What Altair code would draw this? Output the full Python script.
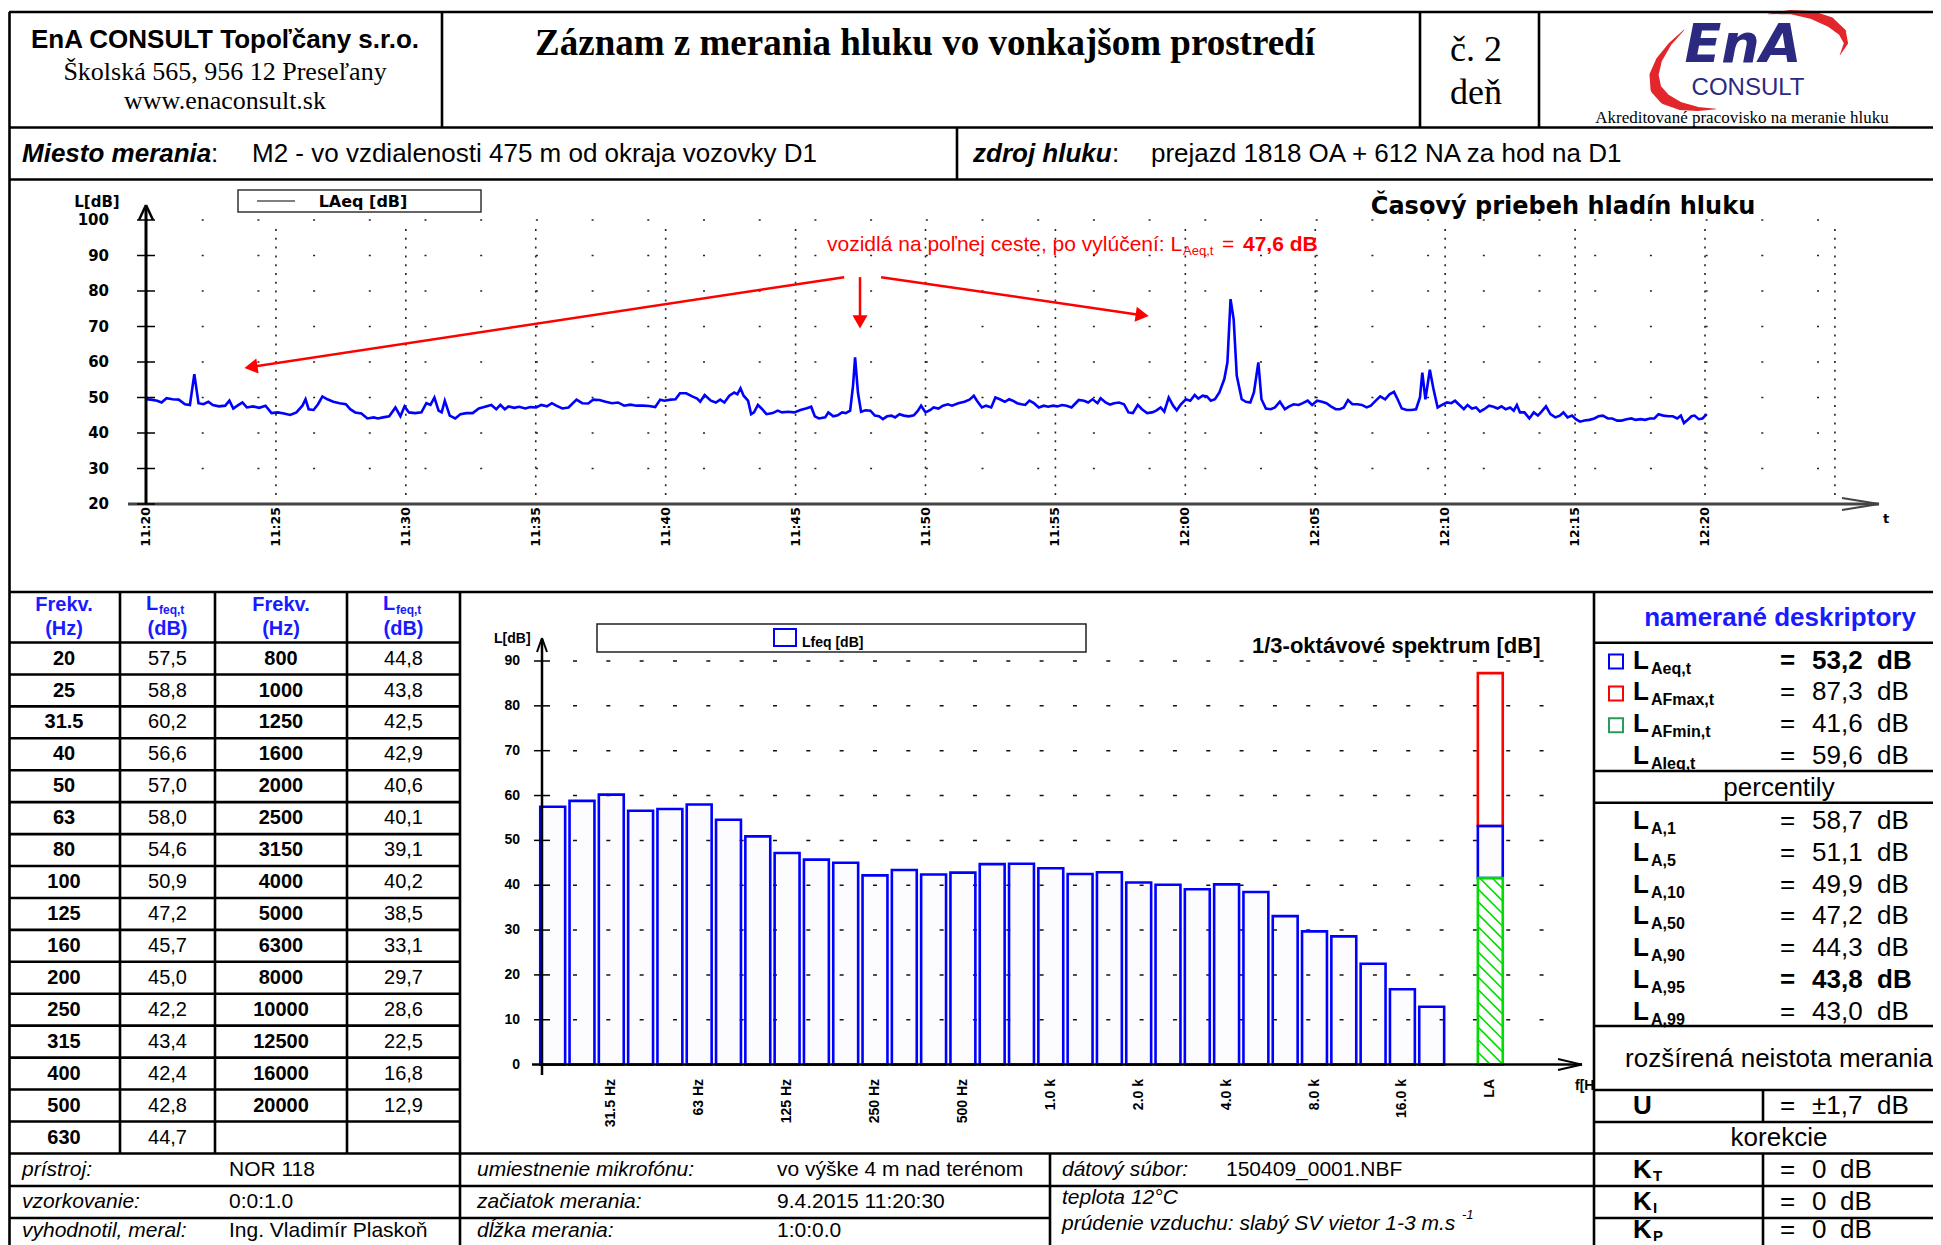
import altair as alt
import pandas as pd

# ------------------------------------------------------------------ data
# time record LAeq (minutes after 11:20, dB)
T_MIN = [
    0.0, 0.19, 0.43, 0.6, 0.79, 1.02, 1.26, 1.5, 1.69, 1.86,
    2.02, 2.21, 2.4, 2.57, 2.81, 3.05, 3.21, 3.36, 3.52, 3.71,
    3.88, 4.12, 4.36, 4.6, 4.83, 5.07, 5.31, 5.55, 5.79, 6.02,
    6.14, 6.26, 6.45, 6.62, 6.79, 6.98, 7.21, 7.45, 7.69, 7.86,
    8.05, 8.29, 8.52, 8.76, 8.93, 9.12, 9.36, 9.6, 9.79, 9.95,
    10.12, 10.36, 10.6, 10.79, 10.95, 11.1, 11.26, 11.38, 11.5, 11.69,
    11.9, 12.1, 12.33, 12.57, 12.81, 13.05, 13.29, 13.48, 13.64, 13.81,
    13.95, 14.17, 14.36, 14.6, 14.79, 15.02, 15.21, 15.43, 15.62, 15.79,
    16.02, 16.26, 16.57, 16.79, 17.02, 17.21, 17.45, 17.69, 17.93, 18.17,
    18.4, 18.64, 18.88, 19.12, 19.36, 19.6, 19.79, 19.95, 20.19, 20.38,
    20.55, 20.79, 21.02, 21.21, 21.33, 21.5, 21.74, 21.93, 22.1, 22.26,
    22.45, 22.64, 22.76, 22.88, 23.0, 23.17, 23.29, 23.4, 23.55, 23.69,
    23.88, 24.12, 24.31, 24.48, 24.71, 24.95, 25.19, 25.43, 25.6, 25.74,
    25.9, 26.14, 26.26, 26.45, 26.62, 26.79, 26.93, 27.1, 27.21, 27.29,
    27.4, 27.52, 27.69, 27.88, 28.05, 28.21, 28.36, 28.52, 28.69, 28.83,
    29.0, 29.17, 29.36, 29.55, 29.71, 29.83, 30.0, 30.19, 30.31, 30.5,
    30.67, 30.86, 31.02, 31.26, 31.5, 31.69,
    31.86, 31.98, 32.17, 32.33, 32.53, 32.69, 32.86, 33.05, 33.22, 33.36,
    33.53, 33.69, 33.84, 34.0, 34.17, 34.36, 34.55, 34.72, 34.91, 35.07,
    35.26, 35.43, 35.62, 35.74, 35.9, 36.1, 36.26, 36.43, 36.62, 36.74,
    36.93, 37.1, 37.26, 37.45, 37.64, 37.81, 37.98, 38.17, 38.33, 38.53,
    38.72, 38.88, 39.05, 39.19, 39.36, 39.53, 39.67, 39.83, 40.02, 40.19,
    40.36, 40.5, 40.67, 40.83, 40.98, 41.14, 41.31, 41.5, 41.62, 41.74,
    41.86, 41.98, 42.17, 42.33, 42.5, 42.64, 42.81, 42.93, 43.1, 43.29,
    43.45, 43.64, 43.83, 44.0, 44.17, 44.36, 44.52, 44.71, 44.88, 45.07,
    45.26, 45.43, 45.6, 45.79, 45.95, 46.1, 46.26, 46.43, 46.62, 46.79,
    46.98, 47.14, 47.33, 47.5, 47.69, 47.86, 48.03, 48.17, 48.33, 48.52,
    48.69, 48.88, 49.03, 49.12, 49.24, 49.41, 49.55, 49.71, 49.88, 50.07,
    50.24, 50.38, 50.55, 50.72, 50.86, 51.03, 51.19, 51.34, 51.5, 51.69,
    51.86, 52.02, 52.17, 52.33, 52.5, 52.64, 52.76, 52.88, 53.05, 53.24,
    53.41, 53.57, 53.71, 53.88, 54.05, 54.24, 54.41, 54.55, 54.71, 54.88,
    55.03, 55.19, 55.36, 55.55, 55.74, 55.9, 56.07, 56.26, 56.43, 56.62,
    56.79, 56.98, 57.17, 57.33, 57.52, 57.69, 57.88, 58.05, 58.21, 58.4,
    58.6, 58.76, 58.93, 59.07, 59.19, 59.36, 59.48, 59.6, 59.76, 59.9,
    60.07,
]
LAEQ_DB = [
    49.5, 49.4, 49.1, 48.6, 49.8, 49.5, 49.4, 48.1, 47.9, 56.6,
    48.4, 48.1, 48.8, 47.9, 47.5, 47.7, 49.1, 46.9, 47.7, 48.6,
    47.2, 47.5, 47.1, 47.7, 45.6, 45.8, 45.5, 45.1, 45.8, 47.7,
    49.5, 46.7, 46.5, 48.1, 50.3, 49.5, 48.8, 48.4, 48.1, 46.7,
    45.8, 45.5, 44.1, 44.4, 44.1, 44.4, 44.7, 47.2, 44.7, 47.5,
    45.8, 45.6, 45.8, 48.4, 47.9, 50.0, 46.3, 45.8, 49.1, 44.9,
    44.1, 45.3, 45.6, 45.6, 46.9, 47.4, 47.9, 46.7, 47.9, 46.7,
    47.5, 47.1, 47.4, 46.9, 47.3, 47.2, 47.9, 47.5, 48.4, 47.7,
    46.9, 47.2, 49.4, 48.4, 48.3, 49.4, 49.3, 48.8, 48.4, 48.6,
    47.7, 48.0, 47.7, 47.7, 47.6, 47.3, 49.4, 49.1, 49.4, 49.5,
    51.2, 51.2, 50.3, 49.7, 48.8, 50.7, 49.1, 48.6, 49.4, 48.6,
    50.5, 51.4, 50.9, 52.6, 50.5, 49.1, 45.3, 45.8, 47.9, 46.9,
    45.3, 45.6, 46.3, 45.8, 46.0, 45.8, 46.5, 47.0, 47.4, 44.7,
    44.1, 44.4, 45.8, 44.7, 45.0, 45.8, 45.6, 46.3, 53.3, 61.3,
    51.4, 46.0, 46.4, 46.3, 44.9, 44.7, 43.9, 44.7, 44.9, 44.4,
    45.3, 44.9, 44.7, 45.0, 46.3, 47.7, 45.8, 46.5, 47.2, 46.9,
    47.7, 48.1, 47.7, 48.4, 48.8, 49.4,
    50.5, 49.1, 47.2, 47.7, 47.2, 50.0, 49.5, 48.8, 49.5, 49.1,
    48.4, 48.1, 47.9, 49.1, 48.4, 47.2, 47.7, 47.4, 47.7, 47.5,
    47.9, 47.7, 47.2, 48.1, 49.3, 49.1, 48.6, 49.5, 48.4, 49.8,
    48.6, 48.0, 48.4, 48.6, 48.1, 45.8, 45.6, 47.9, 46.7, 45.6,
    45.8, 46.3, 47.2, 46.0, 50.0, 47.7, 46.4, 48.1, 49.5, 49.1,
    50.7, 49.7, 50.5, 50.3, 49.1, 49.5, 51.4, 55.2, 59.9, 77.7,
    72.0, 56.1, 49.5, 48.8, 48.6, 51.4, 59.9, 49.5, 46.9, 46.7,
    47.2, 48.8, 46.7, 47.5, 48.1, 47.9, 48.4, 49.1, 47.9, 49.1,
    48.8, 48.4, 47.5, 46.7, 46.7, 47.2, 49.3, 48.1, 48.1, 47.9,
    47.2, 47.7, 49.1, 50.3, 49.5, 50.9, 51.6, 49.5, 46.9, 46.5,
    46.5, 46.7, 50.0, 57.0, 49.5, 57.8, 52.4, 47.2, 47.9, 48.6,
    48.4, 49.1, 47.9, 46.7, 47.9, 46.9, 47.2, 46.0, 46.7, 47.7,
    47.4, 46.9, 47.5, 46.7, 47.2, 46.3, 47.9, 45.8, 45.8, 44.1,
    45.8, 44.9, 46.0, 47.5, 45.3, 44.4, 44.9, 45.8, 44.4, 44.9,
    43.9, 43.2, 43.5, 43.7, 44.1, 44.7, 44.9, 44.1, 44.1, 43.5,
    43.5, 43.9, 44.1, 43.7, 43.9, 43.7, 44.1, 44.1, 45.3, 44.9,
    44.7, 44.7, 44.1, 44.9, 42.8, 43.9, 44.7, 44.9, 43.9, 44.1,
    45.3,
]
TIME_TICK_LABELS = ["11:20", "11:25", "11:30", "11:35", "11:40", "11:45", "11:50",
                    "11:55", "12:00", "12:05", "12:10", "12:15", "12:20"]
TIME_TICK_MIN = [0, 5, 10, 15, 20, 25, 30, 35, 40, 45, 50, 55, 60]
TIME_GRID_MIN = [5, 10, 15, 20, 25, 30, 35, 40, 45, 50, 55, 60, 65]
TIME_Y_TICKS = [20, 30, 40, 50, 60, 70, 80, 90, 100]

# 1/3-octave spectrum
BANDS = ["20", "25", "31.5", "40", "50", "63", "80", "100", "125", "160", "200",
         "250", "315", "400", "500", "630", "800", "1000", "1250", "1600", "2000",
         "2500", "3150", "4000", "5000", "6300", "8000", "10000", "12500", "16000", "20000"]
LFEQ = [57.5, 58.8, 60.2, 56.6, 57.0, 58.0, 54.6, 50.9, 47.2, 45.7, 45.0,
        42.2, 43.4, 42.4, 42.8, 44.7, 44.8, 43.8, 42.5, 42.9, 40.6,
        40.1, 39.1, 40.2, 38.5, 33.1, 29.7, 28.6, 22.5, 16.8, 12.9]
SPEC_LABELS = ["31.5 Hz", "63 Hz", "125 Hz", "250 Hz", "500 Hz", "1.0 k", "2.0 k",
               "4.0 k", "8.0 k", "16.0 k", "LA"]
SPEC_LABEL_IDX = [2, 5, 8, 11, 14, 17, 20, 23, 26, 29, 32]
SPEC_Y_TICKS = [0, 10, 20, 30, 40, 50, 60, 70, 80, 90]
LA_IDX = 32
L_AEQ, L_AFMAX, L_AFMIN = 53.2, 87.3, 41.6

# descriptors
DESC_SUBS = ["Aeq,t", "AFmax,t", "AFmin,t", "AIeq,t"]
DESC_VALS = ["53,2", "87,3", "41,6", "59,6"]
PERC_SUBS = ["A,1", "A,5", "A,10", "A,50", "A,90", "A,95", "A,99"]
PERC_VALS = ["58,7", "51,1", "49,9", "47,2", "44,3", "43,8", "43,0"]
U_VAL = "±1,7"
K_SUBS = ["T", "I", "P"]
K_VALS = ["0", "0", "0"]

# ------------------------------------------------------------------ styles / layout
SANS = "Liberation Sans, Arial, Helvetica, sans-serif"
WIDE = "DejaVu Sans, Verdana, sans-serif"
SERIF = "Liberation Serif, Times New Roman, serif"
BLUE = "#0000ff"
TBLUE = "#1a1aff"
NAVY = "#2b2a80"
RED = "#ff0000"
GREEN = "#00dd00"

W, H = 1925, 1237
O = 8


def sc(domain, r0, r1):
    return alt.Scale(domain=domain, range=[r0 - O, r1 - O], nice=False, zero=False)


SX = sc([O, O + W], O, O + W)
SY = sc([O, O + H], O, O + H)
TX = sc([0, 60], 146, 1705)          # time chart, minutes
TY = sc([20, 100], 504, 220)         # time chart, dB
BX = sc([0, 32], 552.7, 1490.3)      # spectrum, band index
BY = sc([0, 90], 1064.6, 661)        # spectrum, dB
RY = sc([0, 15], 658.6, 658.6 + 31.93 * 15)  # table rows

layers = []


def bc(v, n):
    return list(v) if isinstance(v, (list, tuple)) else [v] * n


def add_text(xs, ys, ts, sx=None, sy=None, **mk):
    n = len(ts)
    df = pd.DataFrame({"x": bc(xs, n), "y": bc(ys, n), "t": ts})
    base = dict(font=SANS, fontSize=20, color="black", align="left", baseline="middle")
    base.update(mk)
    layers.append(alt.Chart(df).mark_text(**base).encode(
        x=alt.X("x:Q", scale=sx if sx is not None else SX, axis=None),
        y=alt.Y("y:Q", scale=sy if sy is not None else SY, axis=None),
        text=alt.Text("t:N")))


def add_rules(segs, sx=None, sy=None, **mk):
    df = pd.DataFrame(segs, columns=["x", "y", "x2", "y2"])
    base = dict(color="black", strokeWidth=2.5)
    base.update(mk)
    layers.append(alt.Chart(df).mark_rule(**base).encode(
        x=alt.X("x:Q", scale=sx if sx is not None else SX, axis=None), x2="x2:Q",
        y=alt.Y("y:Q", scale=sy if sy is not None else SY, axis=None), y2="y2:Q"))


def add_rects(rows, sx=None, sy=None, **mk):
    df = pd.DataFrame(rows, columns=["x", "y", "x2", "y2"])
    layers.append(alt.Chart(df).mark_rect(**mk).encode(
        x=alt.X("x:Q", scale=sx if sx is not None else SX, axis=None), x2="x2:Q",
        y=alt.Y("y:Q", scale=sy if sy is not None else SY, axis=None), y2="y2:Q"))


# ------------------------------------------------------------------ time chart
add_rules([(146, v, 1840, v) for v in TIME_Y_TICKS[1:]], sy=TY,
          color="#222", strokeWidth=1.6, strokeDash=[2, 53.7])
add_rules([(t, 229, t, 500) for t in TIME_GRID_MIN], sx=TX,
          color="#222", strokeWidth=1.6, strokeDash=[2, 6.8])
ts_df = pd.DataFrame({"t": T_MIN[:len(LAEQ_DB)], "L": LAEQ_DB[:len(T_MIN)]})
layers.append(alt.Chart(ts_df).mark_line(color=BLUE, strokeWidth=2.6).encode(
    x=alt.X("t:Q", scale=TX, axis=None), y=alt.Y("L:Q", scale=TY, axis=None)))
add_rules([(128, 504, 1879, 504)], color="#444", strokeWidth=3)
add_rules([(1842, 498, 1879, 504), (1842, 510, 1879, 504)], color="#444", strokeWidth=2)
add_rules([(146, 504, 146, 206)], strokeWidth=3)
add_rules([(139, 220, 146, 205), (153, 220, 146, 205)], strokeWidth=2.5)
add_rules([(137, v, 155, v) for v in TIME_Y_TICKS], sy=TY, strokeWidth=1.5)
add_text(109, TIME_Y_TICKS, [str(v) for v in TIME_Y_TICKS], sy=TY, font=WIDE,
         fontSize=15, fontWeight="bold", align="right")
add_text(97, 202, ["L[dB]"], font=WIDE, fontSize=15, fontWeight="bold", align="center")
add_text(TIME_TICK_MIN, 507, TIME_TICK_LABELS, sx=TX, font=WIDE, fontSize=12.5,
         fontWeight="bold", angle=270, align="right")
add_text(1883, 519, ["t"], font=WIDE, fontSize=13, fontWeight="bold")
add_rects([(238, 190, 481, 212)], fill="white", stroke="#333", strokeWidth=1.5)
add_rules([(257, 201, 295, 201)], strokeWidth=1)
add_text(363, 202, ["LAeq [dB]"], font=WIDE, fontSize=16, fontWeight="bold", align="center")
add_text(1563, 207, ["Časový priebeh hladín hluku"], font=WIDE, fontSize=24,
         fontWeight="bold", align="center")
# red annotation (arrows point at the excluded events)
arr = pd.DataFrame({"x": [26.87, 27.48, 28.29], "y": [83.9, 83.9, 83.9],
                    "x2": [4.04, 27.48, 38.34], "y2": [58.6, 71.3, 73.2],
                    "a": [171.4, 90.0, 8.3]})
layers.append(alt.Chart(arr).mark_rule(color=RED, strokeWidth=2.5).encode(
    x=alt.X("x:Q", scale=TX, axis=None), x2="x2:Q",
    y=alt.Y("y:Q", scale=TY, axis=None), y2="y2:Q"))
layers.append(alt.Chart(arr).mark_point(shape="triangle-right", filled=True, color=RED,
                                        opacity=1, size=230).encode(
    x=alt.X("x2:Q", scale=TX, axis=None), y=alt.Y("y2:Q", scale=TY, axis=None),
    angle=alt.Angle("a:Q", scale=None)))
add_text(827, 245, ["vozidlá na poľnej ceste, po vylúčení: L"], fontSize=21, color=RED)
add_text(1183, 251, ["Aeq,t"], fontSize=13, color=RED)
add_text(1222, 245, ["="], fontSize=21, color=RED)
add_text(1243, 245, ["47,6 dB"], fontSize=21, color=RED, fontWeight="bold")

# ------------------------------------------------------------------ spectrum
HALF = 0.425
add_rules([(573, v, 1552, v) for v in SPEC_Y_TICKS[1:]], sy=BY,
          color="#111", strokeWidth=1.5, strokeDash=[4, 29.33])
sp_df = pd.DataFrame({"i": list(range(len(LFEQ))), "v": LFEQ})
layers.append(alt.Chart(sp_df).transform_calculate(
    a=f"datum.i - {HALF}", b=f"datum.i + {HALF}", z="0").mark_rect(
    fill="#9090ff", fillOpacity=0.03, stroke=BLUE, strokeWidth=2.6).encode(
    x=alt.X("a:Q", scale=BX, axis=None), x2="b:Q",
    y=alt.Y("v:Q", scale=BY, axis=None), y2="z:Q"))
add_rects([(LA_IDX - HALF, L_AEQ, LA_IDX + HALF, L_AFMAX)], sx=BX, sy=BY,
          fill="white", fillOpacity=0, stroke=RED, strokeWidth=2.6)
add_rects([(LA_IDX - HALF, L_AFMIN, LA_IDX + HALF, L_AEQ)], sx=BX, sy=BY,
          fill="#9090ff", fillOpacity=0.03, stroke=BLUE, strokeWidth=2.6)
D = (2 * HALF * 29.3) / 4.484
hatch = []
c = 2.8
while c < L_AFMIN + D:
    s0 = max(0.0, (c - L_AFMIN) / D)
    s1 = min(1.0, c / D)
    if s1 > s0:
        x0, x1 = LA_IDX - HALF, LA_IDX + HALF
        hatch.append((x0 + s0 * (x1 - x0), c - D * s0, x0 + s1 * (x1 - x0), c - D * s1))
    c += 2.8
add_rules(hatch, sx=BX, sy=BY, color=GREEN, strokeWidth=1.6)
add_rects([(LA_IDX - HALF, 0, LA_IDX + HALF, L_AFMIN)], sx=BX, sy=BY,
          fill="white", fillOpacity=0, stroke=GREEN, strokeWidth=2.6)
add_rules([(532, 0, 1582, 0)], sy=BY, strokeWidth=2.5)
add_rules([(1558, 1059, 1582, 1064.6), (1558, 1070, 1582, 1064.6)], strokeWidth=2)
add_rules([(542, 1075, 542, 639)], strokeWidth=2.5)
add_rules([(537, 652, 542, 638), (547, 652, 542, 638)], strokeWidth=2)
add_rules([(534, v, 550, v) for v in SPEC_Y_TICKS[1:]], sy=BY, strokeWidth=1.5)
add_text(520, SPEC_Y_TICKS, [str(v) for v in SPEC_Y_TICKS], sy=BY, fontSize=14,
         fontWeight="bold", align="right")
add_text(494, 639, ["L[dB]"], fontSize=14, fontWeight="bold")
add_text(SPEC_LABEL_IDX, 1079, SPEC_LABELS, sx=BX, fontSize=14, fontWeight="bold",
         angle=270, align="right")
add_text(1575, 1086, ["f[H"], fontSize=14, fontWeight="bold")
add_rects([(597, 624, 1086, 652)], fill="white", stroke="#222", strokeWidth=1.5)
add_rects([(774, 629, 796, 646)], fill="white", stroke=BLUE, strokeWidth=2)
add_text(802, 643, ["Lfeq [dB]"], fontSize=14, fontWeight="bold")
add_text(1252, 646, ["1/3-oktávové spektrum [dB]"], fontSize=22, fontWeight="bold")

# ------------------------------------------------------------------ header
add_text(225, 40, ["EnA CONSULT Topoľčany s.r.o."], fontSize=26, fontWeight="bold",
         align="center")
add_text(225, 72, ["Školská 565, 956 12 Preseľany"], font=SERIF, fontSize=26, align="center")
add_text(225, 101, ["www.enaconsult.sk"], font=SERIF, fontSize=26, align="center")
add_text(925, 44, ["Záznam z merania hluku vo vonkajšom prostredí"], font=SERIF,
         fontSize=37, fontWeight="bold", align="center")
add_text(1476, [50, 93], ["č. 2", "deň"], font=SERIF, fontSize=36, align="center")
sw1 = pd.DataFrame({"x": [1684, 1670, 1659, 1654, 1656, 1665, 1680, 1698, 1716],
                    "y": [30, 44, 60, 75, 89, 99, 106, 109, 109],
                    "s": [0.5, 3, 6, 9, 11, 11, 8, 4, 0.5], "o": list(range(9))})
sw2 = pd.DataFrame({"x": [1768, 1790, 1812, 1830, 1842, 1846, 1840],
                    "y": [14, 12, 15, 22, 32, 43, 55],
                    "s": [0.5, 4, 8, 10, 8, 4, 0.5], "o": list(range(7))})
for sw in (sw1, sw2):
    layers.append(alt.Chart(sw).mark_trail(color="#e2262b").encode(
        x=alt.X("x:Q", scale=SX, axis=None), y=alt.Y("y:Q", scale=SY, axis=None),
        size=alt.Size("s:Q", scale=None), order="o:Q"))
add_text(1743, 46, ["EnA"], font=WIDE, fontSize=54, fontWeight="bold", fontStyle="italic",
         color=NAVY, align="center")
add_text(1748, 88, ["CONSULT"], fontSize=24, color=NAVY, align="center")
add_text(1742, 118, ["Akreditované pracovisko na meranie hluku"], font=SERIF, fontSize=17,
         align="center")
add_text(22, 154, ["Miesto merania"], fontSize=26, fontWeight="bold", fontStyle="italic")
add_text(211, 154, [":"], fontSize=26)
add_text(252, 154, ["M2 - vo vzdialenosti 475 m od okraja vozovky D1"], fontSize=26)
add_text(973, 154, ["zdroj hluku"], fontSize=26, fontWeight="bold", fontStyle="italic")
add_text(1112, 154, [":"], fontSize=26)
add_text(1151, 154, ["prejazd 1818 OA + 612 NA za hod na D1"], fontSize=26)

# ------------------------------------------------------------------ table
for cx in (64, 281):
    add_text(cx, [605, 629], ["Frekv.", "(Hz)"], fontSize=20, fontWeight="bold",
             color=TBLUE, align="center")
for lx, cx in ((146, 167.5), (383, 403.5)):
    add_text(lx, 604, ["L"], fontSize=20, fontWeight="bold", color=TBLUE)
    add_text(lx + 13, 610, ["feq,t"], fontSize=12, fontWeight="bold", color=TBLUE)
    add_text(cx, 629, ["(dB)"], fontSize=20, fontWeight="bold", color=TBLUE, align="center")


def fmt(v):
    return f"{v:.1f}".replace(".", ",")


n1 = 16
add_text(64, list(range(n1)), BANDS[:n1], sy=RY, fontSize=20, fontWeight="bold",
         align="center")
add_text(167.5, list(range(n1)), [fmt(v) for v in LFEQ[:n1]], sy=RY, fontSize=20,
         align="center")
add_text(281, list(range(len(BANDS) - n1)), BANDS[n1:], sy=RY, fontSize=20,
         fontWeight="bold", align="center")
add_text(403.5, list(range(len(BANDS) - n1)), [fmt(v) for v in LFEQ[n1:]], sy=RY,
         fontSize=20, align="center")

# ------------------------------------------------------------------ bottom info
ROWS_Y = [1170, 1202, 1231]
add_text(22, ROWS_Y, ["prístroj:", "vzorkovanie:", "vyhodnotil, meral:"], fontSize=21,
         fontStyle="italic")
add_text(229, ROWS_Y, ["NOR 118", "0:0:1.0", "Ing. Vladimír Plaskoň"], fontSize=21)
add_text(477, ROWS_Y, ["umiestnenie mikrofónu:", "začiatok merania:", "dĺžka merania:"],
         fontSize=21, fontStyle="italic")
add_text(777, ROWS_Y, ["vo výške 4 m nad terénom", "9.4.2015 11:20:30", "1:0:0.0"],
         fontSize=21)
add_text(1062, 1170, ["dátový súbor:"], fontSize=21, fontStyle="italic")
add_text(1226, 1170, ["150409_0001.NBF"], fontSize=21)
add_text(1062, 1198, ["teplota 12°C"], fontSize=21, fontStyle="italic")
add_text(1062, 1224, ["prúdenie vzduchu: slabý SV vietor 1-3 m.s"], fontSize=21,
         fontStyle="italic")
add_text(1462, 1215, ["-1"], fontSize=13, fontStyle="italic")

# ------------------------------------------------------------------ descriptors panel
DESC_Y = [660.6, 692.4, 724.2, 756.0]
PERC_Y = [821.0, 852.8, 884.6, 916.4, 948.2, 980.0, 1011.8]
K_Y = [1170, 1202, 1230]
add_text(1780, 618, ["namerané deskriptory"], fontSize=26, fontWeight="bold",
         color=TBLUE, align="center")
for col, yy in ((BLUE, DESC_Y[0]), (RED, DESC_Y[1]), ("#2e9a5a", DESC_Y[2])):
    add_rects([(1609, yy - 6, 1623, yy + 8)], fill="white", stroke=col, strokeWidth=2)
LY = DESC_Y + PERC_Y
add_text(1633, LY, ["L"] * len(LY), fontSize=26, fontWeight="bold")
add_text(1651, [y + 8 for y in LY], DESC_SUBS + PERC_SUBS, fontSize=16, fontWeight="bold")
vals = DESC_VALS + PERC_VALS
bold_rows = {0, len(DESC_VALS) + 5}
for bold in (False, True):
    idx = [i for i in range(len(LY)) if (i in bold_rows) == bold]
    fw = "bold" if bold else "normal"
    add_text(1780, [LY[i] for i in idx], ["="] * len(idx), fontSize=26, fontWeight=fw)
    add_text(1812, [LY[i] for i in idx], [vals[i] for i in idx], fontSize=26, fontWeight=fw)
    add_text(1877, [LY[i] for i in idx], ["dB"] * len(idx), fontSize=26, fontWeight=fw)
add_text(1779, [788, 1059, 1138], ["percentily", "rozšírená neistota merania", "korekcie"],
         fontSize=26, align="center")
add_text(1633, [1106], ["U"], fontSize=26, fontWeight="bold")
add_text([1780, 1812, 1877], 1106, ["=", U_VAL, "dB"], fontSize=26)
add_text(1633, K_Y, ["K"] * 3, fontSize=26, fontWeight="bold")
add_text(1653, [y + 6 for y in K_Y], K_SUBS, fontSize=15, fontWeight="bold")
add_text(1780, K_Y, ["="] * 3, fontSize=26)
add_text(1812, K_Y, K_VALS, fontSize=26)
add_text(1840, K_Y, ["dB"] * 3, fontSize=26)

# ------------------------------------------------------------------ form lines
R = O + W
B = O + H
hl = [(9, 12, R, 12), (9, 127.5, R, 127.5), (9, 179.5, R, 179.5), (9, 592, R, 592),
      (9, 1153.5, R, 1153.5), (9, 1186, R, 1186), (9, 1218, 1050, 1218), (1594, 1218, R, 1218)]
hl += [(9, 642.5 + 31.93 * k, 460, 642.5 + 31.93 * k) for k in range(16)]
hl += [(1594, y, R, y) for y in (642.8, 771, 802.7, 1026, 1090, 1122)]
vl = [(9.5, 12, 9.5, B), (442, 12, 442, 127.5), (1420, 12, 1420, 127.5),
      (1539, 12, 1539, 127.5), (957, 127.5, 957, 179.5),
      (120, 592, 120, 1153.5), (215, 592, 215, 1153.5), (347, 592, 347, 1153.5),
      (460, 592, 460, B), (1050, 1153.5, 1050, B), (1594, 592, 1594, B),
      (1763, 1090, 1763, 1122), (1763, 1153.5, 1763, B)]
add_rules(hl + vl, strokeWidth=2.6)

chart = alt.layer(*layers).resolve_scale(
    x="independent", y="independent"
).properties(
    width=W, height=H, padding=0, autosize="none", background="white"
).configure_view(strokeWidth=0)

chart.save("out.html", embed_options={"renderer": "svg", "actions": False})
